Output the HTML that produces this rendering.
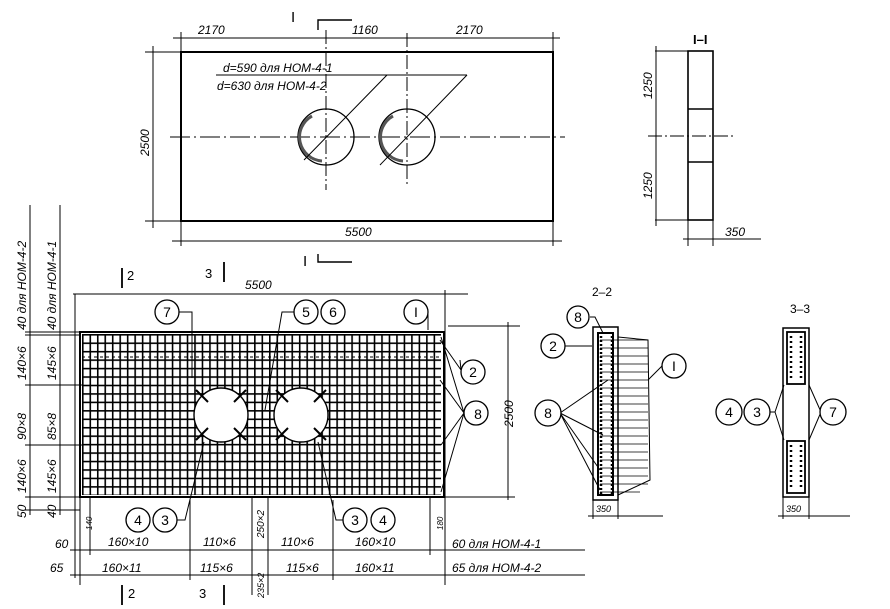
<!DOCTYPE html>
<html><head><meta charset="utf-8"><style>
html,body{margin:0;padding:0;background:#fff}
svg{display:block}
text{font-family:"Liberation Sans",sans-serif;font-style:italic;fill:#000}
</style></head><body>
<svg width="890" height="609" viewBox="0 0 890 609" xmlns="http://www.w3.org/2000/svg">
<defs>
<pattern id="g" x="82" y="334" width="7.48" height="8.45" patternUnits="userSpaceOnUse">
<line x1="0.8" y1="0" x2="0.8" y2="8.45" stroke="#000" stroke-width="1.6"/>
<line x1="0" y1="0.8" x2="7.48" y2="0.8" stroke="#000" stroke-width="1.6"/>
</pattern>
</defs>
<g stroke="#000" fill="none" stroke-width="1">
<rect x="181" y="52" width="372" height="169" stroke-width="2"/>
<line x1="173" y1="38" x2="560" y2="38"/>
<line x1="181" y1="32" x2="181" y2="246"/><line x1="326" y1="30" x2="326" y2="190" stroke-dasharray="14,3,2,3"/>
<line x1="407" y1="33" x2="407" y2="185" stroke-dasharray="14,3,2,3"/><line x1="553" y1="32" x2="553" y2="246"/>
<line x1="145" y1="52" x2="181" y2="52"/><line x1="145" y1="221" x2="181" y2="221"/>
<line x1="153" y1="46" x2="153" y2="228"/>
<line x1="172" y1="241" x2="562" y2="241"/>
<line x1="170" y1="137" x2="565" y2="137" stroke-dasharray="20,4,2,4"/>
<circle cx="326" cy="137" r="28" stroke-width="1.3"/><circle cx="407" cy="137" r="28" stroke-width="1.3"/>
<path d="M312 116 A24 24 0 0 0 322 161" stroke-width="3" stroke="#555"/>
<path d="M393 116 A24 24 0 0 0 403 161" stroke-width="3" stroke="#555"/>
<line x1="216" y1="75" x2="467" y2="75"/>
<line x1="387" y1="75" x2="304" y2="160"/><line x1="467" y1="75" x2="380" y2="165"/>
<path d="M318 30 V20 H352" stroke-width="1.4"/><path d="M318 254 V262 H352" stroke-width="1.4"/>
<rect x="688" y="51" width="25" height="169" stroke-width="1.6"/>
<line x1="688" y1="109" x2="713" y2="109" stroke-width="1.4"/><line x1="688" y1="162" x2="713" y2="162" stroke-width="1.4"/>
<line x1="655" y1="51" x2="688" y2="51"/><line x1="655" y1="220" x2="688" y2="220"/>
<line x1="656" y1="46" x2="656" y2="226"/><line x1="648" y1="136" x2="735" y2="136" stroke-dasharray="14,3,2,3"/>
<line x1="688" y1="220" x2="688" y2="246"/><line x1="713" y1="220" x2="713" y2="246"/>
<line x1="683" y1="239" x2="761" y2="239"/>
<rect x="80" y="332" width="364" height="165" stroke-width="2"/>
<rect x="82" y="334" width="359" height="161" fill="url(#g)" stroke="none"/>
<line x1="82" y1="357" x2="441" y2="357" stroke-dasharray="3,3"/>
<line x1="412" y1="336" x2="412" y2="495" stroke-dasharray="4,2"/>
<circle cx="221" cy="415" r="27" fill="#fff" stroke-width="1.4"/>
<circle cx="301" cy="415" r="27" fill="#fff" stroke-width="1.4"/>
<g stroke-width="2">
<path d="M196 390 L208 402 M246 390 L234 402 M196 440 L208 428 M246 440 L234 428 M276 390 L288 402 M326 390 L314 402 M276 440 L288 428 M326 440 L314 428"/>
</g>
<line x1="73" y1="294" x2="468" y2="294"/>
<line x1="75" y1="294" x2="75" y2="578"/><line x1="80" y1="497" x2="80" y2="585"/>
<line x1="445" y1="290" x2="445" y2="585"/><line x1="448" y1="326" x2="520" y2="326"/><line x1="444" y1="497" x2="515" y2="497"/>
<line x1="508" y1="322" x2="508" y2="500"/>
<line x1="30" y1="205" x2="30" y2="515"/><line x1="60" y1="205" x2="60" y2="515"/>
<line x1="25" y1="332" x2="80" y2="332"/><line x1="25" y1="335" x2="80" y2="335"/><line x1="25" y1="385" x2="82" y2="385"/>
<line x1="25" y1="445" x2="82" y2="445"/><line x1="25" y1="497" x2="80" y2="497"/><line x1="25" y1="510" x2="80" y2="510"/>
<line x1="70" y1="550" x2="585" y2="550"/><line x1="70" y1="575" x2="585" y2="575"/>
<path d="M90 497 V555 M190 500 V580 M252 497 V595 M268 497 V595 M333 500 V580 M430 497 V555"/>
<path d="M122 268 V288 M224 262 V282 M122 585 V605 M224 585 V605" stroke-width="1.8"/>
<path d="M179 312 H192 V378 M294 312 H282 L265 410 M428 312 V330 M461 370 L440 340 M461 370 L460 360 M464 413 L441 337 M464 413 L440 380 M464 413 L441 445 M464 413 L441 492"/>
<path d="M177 520 H185 L204 442 M343 520 H336 L318 442"/>
<rect x="593" y="327" width="25" height="173" stroke-width="1.5"/>
<rect x="598" y="333" width="15" height="162" stroke-width="2"/>
<path d="M618 337 L648 340 L650 480 L618 495"/>
<g stroke-width="0.8">
<path d="M600 340H648M600 348H648M600 356H648M600 364H648M600 372H648M600 380H648M600 388H648M600 396H648M600 404H648M600 412H648M600 420H648M600 428H648M600 436H648M600 444H648M600 452H648M600 460H648M600 468H648M600 476H648M600 484H648M600 492H640"/>
</g>
<path d="M601 336 V494" stroke-width="2.5" stroke-dasharray="2,2"/>
<path d="M612 336 V494" stroke-width="2.5" stroke-dasharray="2,2"/>
<path d="M590 317 H595 L603 333 M565 346 H592 M560 413 L608 380 M560 413 L600 470 M560 413 L600 490 M560 413 L603 435 M662 366 L648 380"/>
<line x1="593" y1="500" x2="593" y2="519"/><line x1="618" y1="500" x2="618" y2="519"/>
<line x1="588" y1="516" x2="663" y2="516"/>
<rect x="783" y="328" width="26" height="169" stroke-width="1.5"/>
<rect x="787" y="332" width="18" height="52" stroke-width="1.8"/>
<rect x="787" y="441" width="18" height="52" stroke-width="1.8"/>
<path d="M791 336V380 M801 336V380 M791 445V489 M801 445V489" stroke-width="2.5" stroke-dasharray="2,3"/>
<path d="M769 412 H775 L784 385 M775 412 L784 440 M821 412 L809 385 M821 412 L809 440"/>
<line x1="783" y1="497" x2="783" y2="519"/><line x1="809" y1="497" x2="809" y2="519"/>
<line x1="778" y1="516" x2="850" y2="516"/>
<g stroke-width="1.3" fill="#fff">
<circle cx="167" cy="312" r="12"/><circle cx="306" cy="312" r="12"/><circle cx="333" cy="312" r="12"/>
<circle cx="416" cy="312" r="12"/><circle cx="473" cy="372" r="12"/><circle cx="476" cy="413" r="12"/>
<circle cx="138" cy="520" r="12"/><circle cx="165" cy="520" r="12"/><circle cx="355" cy="520" r="12"/><circle cx="383" cy="520" r="12"/>
<circle cx="578" cy="317" r="11"/><circle cx="553" cy="346" r="12"/><circle cx="674" cy="366" r="12"/><circle cx="548" cy="413" r="13"/>
<circle cx="729" cy="412" r="13"/><circle cx="757" cy="412" r="13"/><circle cx="833" cy="412" r="13"/>
</g>
</g>
<g font-size="12">
<text x="198" y="34">2170</text><text x="352" y="34">1160</text><text x="456" y="34">2170</text>
<text x="345" y="236">5500</text>
<text x="223" y="72">d=590  для  НОМ-4-1</text><text x="217" y="90">d=630  для  НОМ-4-2</text>
<text transform="translate(149,156) rotate(-90)">2500</text>
<text x="291" y="22" style="font-style:normal" font-family="Liberation Serif" font-size="15">I</text>
<text x="303" y="266" style="font-style:normal" font-family="Liberation Serif" font-size="15">I</text>
<text x="693" y="44" style="font-style:normal" font-size="13" font-weight="bold">I–I</text>
<text transform="translate(652,99) rotate(-90)">1250</text><text transform="translate(652,199) rotate(-90)">1250</text>
<text x="725" y="236">350</text>
<text x="245" y="289">5500</text>
<text x="127" y="280" style="font-style:normal" font-size="13">2</text><text x="205" y="278" style="font-style:normal" font-size="13">3</text>
<text x="128" y="598" style="font-style:normal" font-size="13">2</text><text x="199" y="598" style="font-style:normal" font-size="13">3</text>
<text transform="translate(513,427) rotate(-90)">2500</text>
<text x="108" y="546">160×10</text><text x="203" y="546">110×6</text><text x="281" y="546">110×6</text><text x="355" y="546">160×10</text>
<text x="102" y="572">160×11</text><text x="200" y="572">115×6</text><text x="286" y="572">115×6</text><text x="355" y="572">160×11</text>
<text x="55" y="548">60</text><text x="50" y="572">65</text>
<text x="452" y="548">60  для  НОМ-4-1</text><text x="452" y="572">65  для  НОМ-4-2</text>
<text transform="translate(264,538) rotate(-90)" font-size="10">250×2</text>
<text transform="translate(264,598) rotate(-90)" font-size="9">235×2</text>
<text transform="translate(92,530) rotate(-90)" font-size="8">140</text>
<text transform="translate(443,530) rotate(-90)" font-size="8">180</text>
<text transform="translate(26,330) rotate(-90)">40  для  НОМ-4-2</text>
<text transform="translate(56,330) rotate(-90)">40  для  НОМ-4-1</text>
<text transform="translate(26,380) rotate(-90)">140×6</text><text transform="translate(56,380) rotate(-90)">145×6</text>
<text transform="translate(26,440) rotate(-90)">90×8</text><text transform="translate(56,440) rotate(-90)">85×8</text>
<text transform="translate(26,493) rotate(-90)">140×6</text><text transform="translate(56,493) rotate(-90)">145×6</text>
<text transform="translate(26,518) rotate(-90)">50</text><text transform="translate(56,518) rotate(-90)">40</text>
<text x="592" y="296" style="font-style:normal">2–2</text><text x="790" y="313" style="font-style:normal">3–3</text>
<text x="596" y="512" font-size="9">350</text><text x="786" y="512" font-size="9">350</text>
</g>
<g font-size="14" text-anchor="middle">
<text x="167" y="317" style="font-style:normal">7</text><text x="306" y="317" style="font-style:normal">5</text><text x="333" y="317" style="font-style:normal">6</text>
<text x="416" y="317" style="font-style:normal">I</text><text x="473" y="377" style="font-style:normal">2</text><text x="478" y="419" style="font-style:normal">8</text>
<text x="138" y="525" style="font-style:normal">4</text><text x="165" y="525" style="font-style:normal">3</text><text x="355" y="525" style="font-style:normal">3</text><text x="383" y="525" style="font-style:normal">4</text>
<text x="578" y="322" style="font-style:normal">8</text><text x="553" y="351" style="font-style:normal">2</text><text x="674" y="371" style="font-style:normal">I</text><text x="548" y="418" style="font-style:normal">8</text>
<text x="729" y="417" style="font-style:normal">4</text><text x="757" y="417" style="font-style:normal">3</text><text x="833" y="417" style="font-style:normal">7</text>
</g>
</svg>
</body></html>
